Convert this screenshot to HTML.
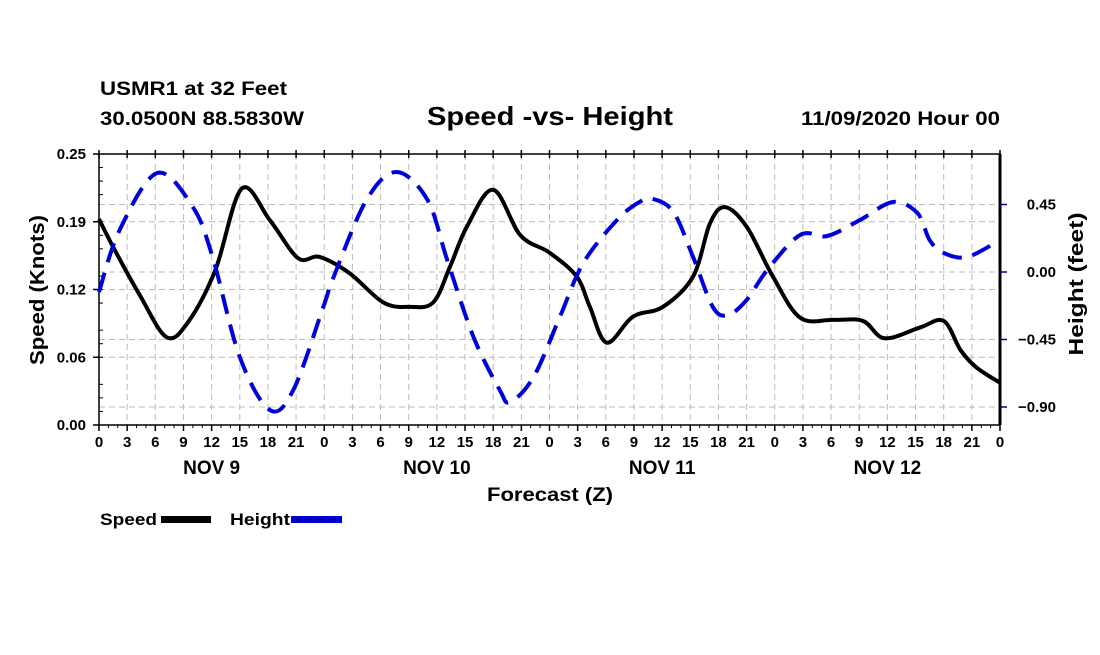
<!DOCTYPE html>
<html><head><meta charset="utf-8"><style>
body{margin:0;background:#fff;}
svg text{font-family:"Liberation Sans",sans-serif;font-weight:bold;}
</style></head><body>
<svg id="chart" width="1100" height="650" xmlns="http://www.w3.org/2000/svg">
<rect width="1100" height="650" fill="#fff"/>
<text x="100" y="95" font-size="19" textLength="187" lengthAdjust="spacingAndGlyphs">USMR1 at 32 Feet</text>
<text x="100" y="125" font-size="19" textLength="204" lengthAdjust="spacingAndGlyphs">30.0500N 88.5830W</text>
<text x="427" y="125" font-size="26" textLength="246" lengthAdjust="spacingAndGlyphs">Speed -vs- Height</text>
<text x="801" y="125" font-size="19" textLength="199" lengthAdjust="spacingAndGlyphs">11/09/2020 Hour 00</text>
<g id="grid"></g>
<g id="axes"></g>
<g id="series"></g>
<text transform="translate(44,290) rotate(-90)" font-size="20" text-anchor="middle" textLength="150" lengthAdjust="spacingAndGlyphs">Speed (Knots)</text>
<text transform="translate(1083,284) rotate(-90)" font-size="20" text-anchor="middle" textLength="143" lengthAdjust="spacingAndGlyphs">Height (feet)</text>
<text x="487" y="501" font-size="19" textLength="126" lengthAdjust="spacingAndGlyphs">Forecast (Z)</text>
<g>
<text x="100" y="525" font-size="17" textLength="57" lengthAdjust="spacingAndGlyphs">Speed</text>
<rect x="161" y="516" width="50" height="7" fill="#000"/>
<text x="230" y="525" font-size="17" textLength="60" lengthAdjust="spacingAndGlyphs">Height</text>
<rect x="291" y="516" width="51" height="7" fill="#0000dd"/>
<line x1="293" y1="519.5" x2="342" y2="519.5" stroke="#000" stroke-width="1.5" stroke-dasharray="7 5"/>
</g>
</svg>
<script>
const speedHours=[0,1.7,4.4,7.2,9.5,12.4,15.2,18.2,21.2,23.5,26.7,30.3,33.1,35.6,37.4,39.2,42,44.9,48,50.9,52.3,54.1,56.9,60.1,63.3,65.1,66.7,69,71.8,74.7,78.2,81.4,83.7,87.5,90,91.8,93.5,96];
const speedValues=[0.190,0.161,0.119,0.081,0.095,0.143,0.218,0.189,0.154,0.155,0.140,0.113,0.109,0.113,0.146,0.183,0.217,0.175,0.159,0.137,0.109,0.076,0.100,0.109,0.137,0.186,0.201,0.183,0.137,0.099,0.097,0.096,0.080,0.090,0.096,0.069,0.053,0.039];
const heightHours=[0,2.2,6.2,10,12.1,15,18.2,20.7,23.9,25,28.5,31.7,35,37.1,39.9,42.7,43.8,46.3,49.1,51.6,55.2,57.6,59,61.2,63.3,65.4,67,69,71.2,74.7,77.6,81.1,84.6,87.2,88.5,90,92.5,96];
const heightValues=[-0.133,0.28,0.66,0.433,0.1,-0.567,-0.92,-0.787,-0.233,-0.033,0.48,0.667,0.48,0.08,-0.433,-0.787,-0.867,-0.7,-0.3,0.06,0.347,0.467,0.487,0.4,0.1,-0.233,-0.287,-0.187,0.013,0.247,0.24,0.347,0.467,0.393,0.213,0.127,0.1,0.213];
const leftTicks=[0,0.0625,0.125,0.1875,0.25];
const leftTickLabels=["0.00","0.06","0.12","0.19","0.25"];
const rightTicks=[0.45,0,-0.45,-0.9];
const rightTickLabels=["0.45","0.00","\u22120.45","\u22120.90"];
const xTickLabels=["0","3","6","9","12","15","18","21"];
const dayLabels=["NOV 9","NOV 10","NOV 11","NOV 12"];

const L=99,R=1000,T=154,B=425;
const xs=h=>L+h*(R-L)/96;
const yL=v=>B-v*(B-T)/0.25;
const yR=v=>272-v*150;
const NS="http://www.w3.org/2000/svg";
function mk(tag,attrs,parent){const e=document.createElementNS(NS,tag);for(const k in attrs)e.setAttribute(k,attrs[k]);parent.appendChild(e);return e;}
const grid=document.getElementById('grid'),axes=document.getElementById('axes'),series=document.getElementById('series');

for(let h=3;h<96;h+=3){const l=mk('line',{x1:xs(h),x2:xs(h),y1:T,y2:B,stroke:'#bbb','stroke-width':1,'stroke-dasharray':'6 4'},grid);

}
leftTicks.slice(1,-1).forEach(v=>{const l=mk('line',{x1:L,x2:R,y1:yL(v),y2:yL(v),stroke:'#bbb','stroke-width':1,'stroke-dasharray':'6 4'},grid);

});
rightTicks.forEach(v=>{const l=mk('line',{x1:L,x2:R,y1:yR(v),y2:yR(v),stroke:'#bbb','stroke-width':1,'stroke-dasharray':'6 4'},grid);

});

mk('rect',{x:L,y:T,width:R-L,height:B-T,fill:'none',stroke:'#000','stroke-width':1.5},axes);
mk('line',{x1:R,x2:R,y1:T,y2:B,stroke:'#000','stroke-width':3},axes);
for(let i=0;i<=20;i++){const y=B-i*(B-T)/20;mk('line',{x1:L,x2:L+(i%4==0?0:4),y1:y,y2:y,stroke:'#000','stroke-width':1},axes);}
leftTicks.forEach((v,i)=>{mk('line',{x1:L-6,x2:L,y1:yL(v),y2:yL(v),stroke:'#000','stroke-width':1.5},axes);
const t=mk('text',{x:86,y:yL(v)+5,'font-size':15,'text-anchor':'end'},axes);t.textContent=leftTickLabels[i];

});
rightTicks.forEach((v,i)=>{mk('line',{x1:R,x2:R+7,y1:yR(v),y2:yR(v),stroke:'#00008b','stroke-width':1.5},axes);
const t=mk('text',{x:1056,y:yR(v)+5,'font-size':15,'text-anchor':'end'},axes);t.textContent=rightTickLabels[i];

});
for(let h=0;h<=96;h+=3){const x=xs(h);
mk('line',{x1:x,x2:x,y1:B,y2:B+6,stroke:'#000','stroke-width':1.5},axes);
mk('line',{x1:x,x2:x,y1:T-4,y2:T+4,stroke:'#000','stroke-width':1.5},axes);
const t=mk('text',{x:x,y:B+22,'font-size':15,'text-anchor':'middle'},axes);t.textContent=xTickLabels[(h/3)%8];

}
for(let h=1;h<96;h++){if(h%3)mk('line',{x1:xs(h),x2:xs(h),y1:B,y2:B+3,stroke:'#000','stroke-width':1},axes);}
dayLabels.forEach((d,i)=>{const t=mk('text',{x:xs(12+24*i),y:474,'font-size':19,'text-anchor':'middle'},axes);t.textContent=d;

});

function spline(pts){let d=`M${pts[0][0]},${pts[0][1]}`;
for(let i=0;i<pts.length-1;i++){const p0=pts[Math.max(0,i-1)],p1=pts[i],p2=pts[i+1],p3=pts[Math.min(pts.length-1,i+2)];
d+=` C${p1[0]+(p2[0]-p0[0])/6},${p1[1]+(p2[1]-p0[1])/6} ${p2[0]-(p3[0]-p1[0])/6},${p2[1]-(p3[1]-p1[1])/6} ${p2[0]},${p2[1]}`;}
return d;}
const sp=mk('path',{d:spline(speedHours.map((h,i)=>[xs(h),yL(speedValues[i])])),fill:'none',stroke:'#000','stroke-width':4,'stroke-linejoin':'round'},series);


const hp=mk('path',{d:spline(heightHours.map((h,i)=>[xs(h),yR(heightValues[i])])),fill:'none',stroke:'#0000dd','stroke-width':4,'stroke-dasharray':'20 11'},series);


</script>
</body></html>
